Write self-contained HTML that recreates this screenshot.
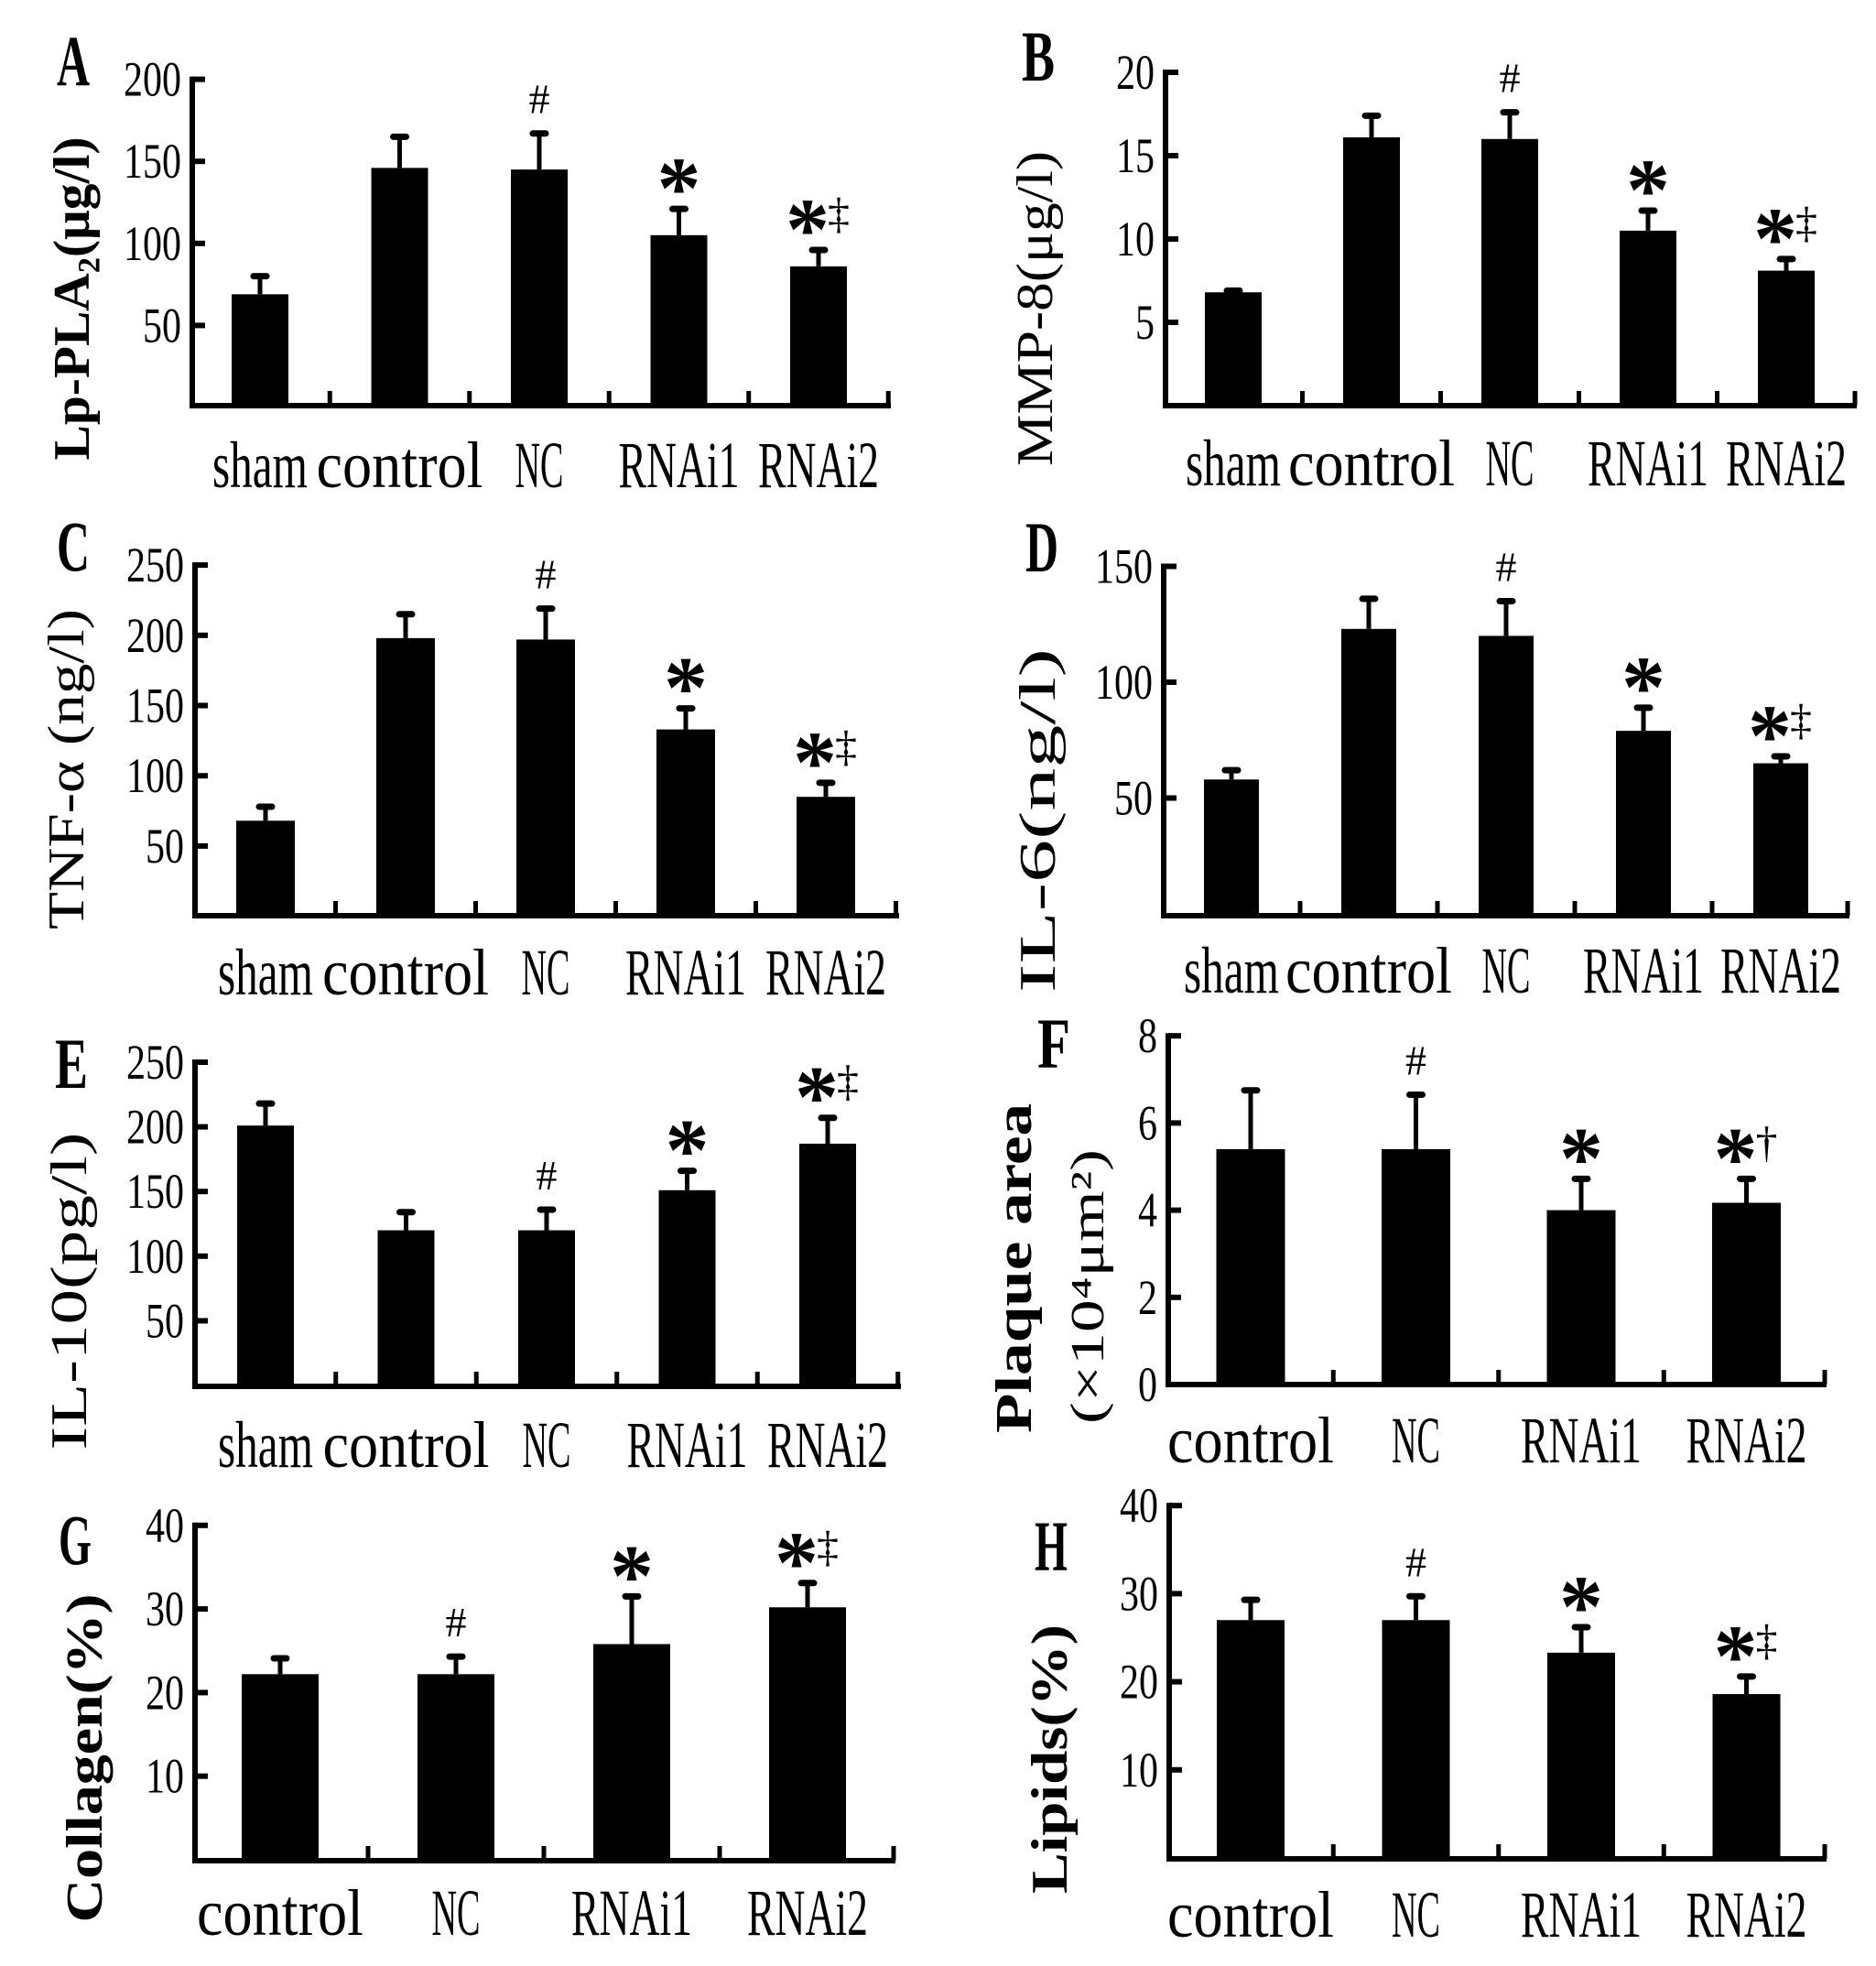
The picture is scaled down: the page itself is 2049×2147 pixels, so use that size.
<!DOCTYPE html>
<html><head><meta charset="utf-8"><style>
html,body{margin:0;padding:0;background:#fff}
svg{display:block}
text{font-family:"Liberation Serif","Noto Serif CJK SC",serif;fill:#000}
</style></head><body>
<svg id="fig" xmlns="http://www.w3.org/2000/svg" width="2049" height="2147" viewBox="0 0 2049 2147"></svg>
<script>
// ---- data ----
const cats5 = ["sham","control","NC","RNAi1","RNAi2"];
const cats4 = ["control","NC","RNAi1","RNAi2"];
const valA = [69,146,145,105,86];   const errA = [80,165,167,121,96];
const valB = [6.8,16.1,16.0,10.5,8.1]; const errB = [6.9,17.4,17.6,11.7,8.8];
const valC = [68,198,197,133,85];  const errC = [78,215,219,148,95];
const valD = [58,123,120,79,65];   const errD = [62,136,135,89,68];
const valE = [201,120,120,151,187]; const errE = [218,134,136,166,207];
const valF = [5.4,5.4,4.0,4.17];   const errF = [6.75,6.65,4.72,4.72];
const valG = [22.2,22.2,25.8,30.2]; const errG = [24.1,24.3,31.5,33.1];
const valH = [27.0,27.0,23.3,18.6]; const errH = [29.3,29.7,26.2,20.6];
const ticksA = [50,100,150,200];
const ticksB = [5,10,15,20];
const ticksC = [50,100,150,200,250];
const ticksD = [50,100,150];
const ticksE = [50,100,150,200,250];
const ticksF = [0,2,4,6,8];
const ticksG = [10,20,30,40];
const ticksH = [10,20,30,40];
const marksA = ["","","#","*","*‡"];
const marksE = ["","","#","*","*‡"];
const marksF = ["","#","*","*†"];
const marksG = ["","#","*","*‡"];

const panels = [
 {id:"a",letter:"A",lx:62,ly:93,cats:cats5,val:valA,err:errA,ticks:ticksA,marks:marksA,ax:210,right:973,zeroY:445,ppu:1.792,base:443,x0:284,step:152.5,bw:62,labY:532,yt:"Lp-PLA₂(μg/l)",ytx:79,yty:326,ytl:353,bold:true},
 {id:"b",letter:"B",lx:1116,ly:88,cats:cats5,val:valB,err:errB,ticks:ticksB,marks:marksA,ax:1273,right:2028,zeroY:443,ppu:18.2,base:443,x0:1347,step:151,bw:62,labY:530,yt:"MMP-8(μg/l)",ytx:1131,yty:337,ytl:344},
 {id:"c",letter:"C",lx:62,ly:623,cats:cats5,val:valC,err:errC,ticks:ticksC,marks:marksA,ax:213,right:982,zeroY:1000.6,ppu:1.534,base:1000,x0:290,step:153,bw:64,labY:1086,yt:"TNF-α (ng/l)",ytx:73,yty:840,ytl:350},
 {id:"d",letter:"D",lx:1120,ly:624,cats:cats5,val:valD,err:errD,ticks:ticksD,marks:marksA,ax:1271,right:2020,zeroY:998,ppu:2.53,base:1000,x0:1345,step:150,bw:60,labY:1084,yt:"IL-6(ng/l)",ytx:1134,yty:896,ytl:376},
 {id:"e",letter:"E",lx:60,ly:1188,cats:cats5,val:valE,err:errE,ticks:ticksE,marks:marksE,ax:213,right:984,zeroY:1513,ppu:1.412,base:1514,x0:290,step:153.5,bw:62,labY:1602,yt:"IL-10(pg/l)",ytx:76,yty:1410,ytl:347},
 {id:"f",letter:"F",lx:1133,ly:1166,cats:cats4,val:valF,err:errF,ticks:ticksF,marks:marksF,ax:1276,right:1995,zeroY:1512,ppu:47.6,base:1512,x0:1366,step:180.5,bw:75,labY:1597,yt:"Plaque area",ytx:1108,yty:1385,ytl:360,bold:true,yt2:"(×10⁴μm²)",yt2x:1187,yt2y:1405,yt2l:300},
 {id:"g",letter:"G",lx:64,ly:1708,cats:cats4,val:valG,err:errG,ticks:ticksG,marks:marksG,ax:213,right:978,zeroY:2031,ppu:9.13,base:2032,x0:306,step:192,bw:84,labY:2113,yt:"Collagen(%)",ytx:93,yty:1920,ytl:359,bold:true},
 {id:"h",letter:"H",lx:1130,ly:1715,cats:cats4,val:valH,err:errH,ticks:ticksH,marks:marksG,ax:1277,right:1995,zeroY:2029,ppu:9.62,base:2030,x0:1366,step:180.5,bw:74,labY:2115,yt:"Lipids(%)",ytx:1147,yty:1921,ytl:294,bold:true}
];
const labW = {"sham":104,"control":182,"NC":53,"RNAi1":132,"RNAi2":132};

const NS="http://www.w3.org/2000/svg";
const svg=document.getElementById("fig");
function mk(tag,attrs,parent){const e=document.createElementNS(NS,tag);for(const k in attrs)e.setAttribute(k,attrs[k]);(parent||svg).appendChild(e);return e;}

panels.forEach(p=>{
  const g=mk("g",{});
  
  
  const yS=v=>p.zeroY-v*p.ppu;
  const xS=i=>p.x0+i*p.step;
  const L=mk("text",{x:p.lx,y:p.ly,"font-size":78,"font-weight":"bold",textLength:36,lengthAdjust:"spacingAndGlyphs"},g);
  L.textContent=p.letter;
  
  
  p.val.forEach((v,i)=>{
    const cx=xS(i), top=yS(v), et=yS(p.err[i]);
    const el=mk("line",{x1:cx,y1:top,x2:cx,y2:et,stroke:"#000","stroke-width":5},g);
    
    
    const cap=mk("line",{x1:cx-7,y1:et,x2:cx+7,y2:et,stroke:"#000","stroke-width":7,"stroke-linecap":"round"},g);
    
    
    const r=mk("rect",{x:cx-p.bw/2,y:top,width:p.bw,height:p.base-top,fill:"#000"},g);
    
    
    const m=p.marks[i];
    if(m.indexOf("#")>=0){
      const t=mk("text",{x:cx,y:et-22,"font-size":46,"text-anchor":"middle"},g);
      t.textContent="#";
      
      
    }
    if(m.indexOf("*")>=0){
      const two=m.length>1;
      const sx=two?cx-12:cx;
      const sc=et-40; // visual centre of star
      const t=mk("text",{x:sx,y:sc+50,"font-size":96,"font-weight":"bold","text-anchor":"middle","font-family":"Liberation Sans, sans-serif"},g);
      t.textContent="*";
      
      
      if(two){
        const d=mk("text",{x:sx+34,y:sc+16,"font-size":48,"text-anchor":"middle"},g);
        d.textContent=m.slice(1);
        
        
      }
    }
    const lt=mk("text",{x:cx,y:p.labY,"font-size":72,"text-anchor":"middle",textLength:labW[p.cats[i]],lengthAdjust:"spacingAndGlyphs"},g);
    lt.textContent=p.cats[i];
    
    
  });
  const ya=mk("line",{x1:p.ax,y1:yS(p.ticks[p.ticks.length-1])-3,x2:p.ax,y2:p.base+3,stroke:"#000","stroke-width":6},g);
  
  
  const xa=mk("line",{x1:p.ax-3,y1:p.base,x2:p.right,y2:p.base,stroke:"#000","stroke-width":6},g);
  
  
  for(let i=0;i<p.cats.length;i++){
    const tx=p.x0+(i+0.5)*p.step;
    const xt=mk("line",{x1:Math.min(tx,p.right-2),y1:p.base,x2:Math.min(tx,p.right-2),y2:p.base-16,stroke:"#000","stroke-width":5},g);
    
    
  }
  p.ticks.forEach(t=>{
    const y=yS(t);
    const tk=mk("line",{x1:p.ax,y1:y,x2:p.ax+14,y2:y,stroke:"#000","stroke-width":6},g);
    
    
    const s=String(t);
    const tl=mk("text",{x:p.ax-12,y:y+18,"font-size":54,"text-anchor":"end",textLength:21*s.length,lengthAdjust:"spacingAndGlyphs"},g);
    tl.textContent=s;
    
    
  });
  const yt=mk("text",{x:0,y:0,"font-size":56,"text-anchor":"middle",transform:`translate(${p.ytx+18},${p.yty}) rotate(-90)`,textLength:p.ytl,lengthAdjust:"spacingAndGlyphs","font-weight":p.bold?"bold":"normal"},g);
  yt.textContent=p.yt;
  
  
  if(p.yt2){
    const y2=mk("text",{x:0,y:0,"font-size":52,"text-anchor":"middle",transform:`translate(${p.yt2x+18},${p.yt2y}) rotate(-90)`,textLength:p.yt2l,lengthAdjust:"spacingAndGlyphs"},g);
    y2.textContent=p.yt2;
    
    
  }
});
</script>
</body></html>
